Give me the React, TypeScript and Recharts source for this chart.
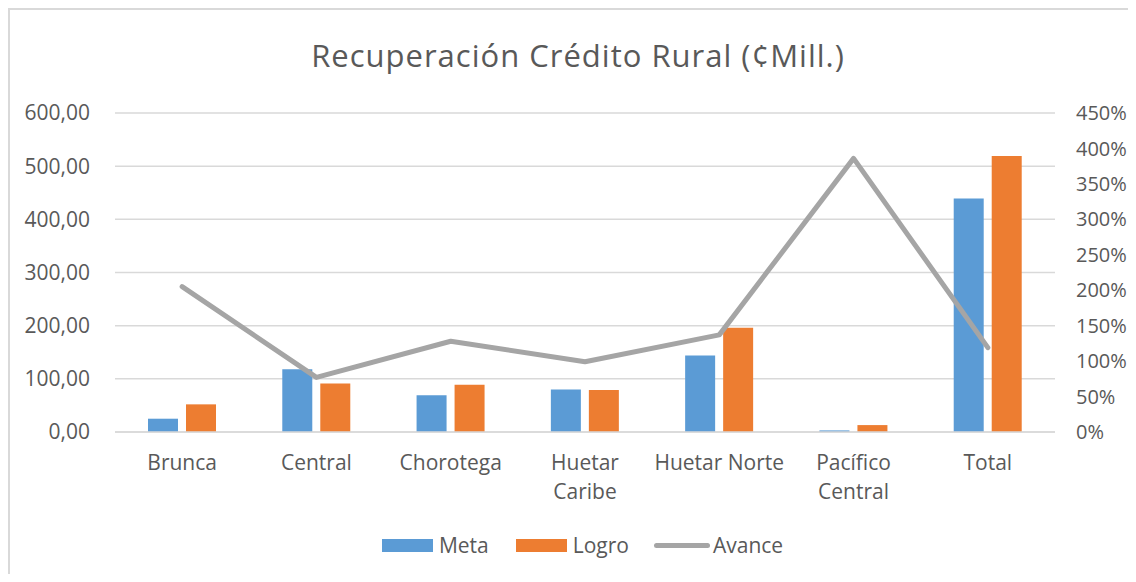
import React from 'react';
import { ComposedChart, Bar, Line, XAxis, YAxis, CartesianGrid, Legend } from 'recharts';

const categories = ['Brunca', 'Central', 'Chorotega', 'Huetar Caribe', 'Huetar Norte', 'Pacífico Central', 'Total'];
const tickLines = [['Brunca'], ['Central'], ['Chorotega'], ['Huetar', 'Caribe'], ['Huetar Norte'], ['Pacífico', 'Central'], ['Total']];
const meta = [25, 118, 69, 80, 144, 3, 439];
const logro = [52, 91, 89, 79, 196, 13, 519];
const avance = [205, 77, 128, 99, 137, 386, 119];
const leftTicks = [0, 100, 200, 300, 400, 500, 600];
const rightTicks = [0, 50, 100, 150, 200, 250, 300, 350, 400, 450];

const data = categories.map((name, i) => ({ name, meta: meta[i], logro: logro[i], avance: avance[i] }));

const COLORS = { meta: '#5B9BD5', logro: '#ED7D31', avance: '#A5A5A5', grid: '#D9D9D9', text: '#595959' };
const FONT = "'Open Sans', sans-serif";

const XTick = (props: any) => {
    const { x, y, index } = props;
    const lines = tickLines[index] || [props.payload.value];
    return (
        <text x={x} y={y + 38} textAnchor="middle" fill={COLORS.text} fontSize={21} fontFamily={FONT}>
            {lines.map((l: string, i: number) => (
                <tspan key={i} x={x} dy={i === 0 ? 0 : 29}>{l}</tspan>
            ))}
        </text>
    );
};

const LegendContent = () => (
    <div style={{ display: 'flex', justifyContent: 'center', alignItems: 'center', height: 26, paddingLeft: 21, fontFamily: FONT, fontSize: 21, color: COLORS.text }}>
        <span style={{ display: 'inline-block', width: 51, height: 13, background: COLORS.meta, marginRight: 6 }} />
        <span style={{ marginRight: 27 }}>Meta</span>
        <span style={{ display: 'inline-block', width: 51, height: 13, background: COLORS.logro, marginRight: 6 }} />
        <span style={{ marginRight: 25 }}>Logro</span>
        <span style={{ display: 'inline-block', width: 56, height: 5, borderRadius: 3, background: COLORS.avance, marginRight: 3 }} />
        <span>Avance</span>
    </div>
);

export default function App() {
    return (
        <div style={{ position: 'relative', width: 1128, height: 566 }}>
            <div style={{ position: 'absolute', left: 0, top: 0, right: 0, bottom: 0, borderTop: '2px solid #D9D9D9', borderLeft: '2px solid #D9D9D9', pointerEvents: 'none' }} />
            <div style={{ position: 'absolute', left: 570, top: 26, transform: 'translateX(-50%)', whiteSpace: 'nowrap', fontFamily: FONT, fontSize: 31, letterSpacing: 1, color: COLORS.text }}>
                Recuperación Crédito Rural (¢Mill.)
            </div>
            <ComposedChart
                width={1128}
                height={566}
                data={data}
                margin={{ top: 105, right: 0, left: 0, bottom: 16 }}
                barSize={30}
                barGap={8}
                style={{ overflow: 'visible' }}
            >
                <CartesianGrid stroke={COLORS.grid} strokeWidth={1.5} vertical={false} yAxisId="left" />
                <XAxis
                    dataKey="name"
                    height={100}
                    tick={<XTick />}
                    tickLine={false}
                    tickSize={0}
                    tickMargin={0}
                    axisLine={{ stroke: COLORS.grid, strokeWidth: 1.5 }}
                    interval={0}
                />
                <YAxis
                    yAxisId="left"
                    width={107}
                    domain={[0, 600]}
                    ticks={leftTicks}
                    tickFormatter={(v: number) => v.toFixed(2).replace('.', ',')}
                    tick={{ fill: COLORS.text, fontSize: 21, fontFamily: FONT }}
                    tickLine={false}
                    axisLine={false}
                    tickMargin={19}
                />
                <YAxis
                    yAxisId="right"
                    orientation="right"
                    width={81}
                    domain={[0, 450]}
                    ticks={rightTicks}
                    tickFormatter={(v: number) => `${v}%`}
                    tick={{ fill: COLORS.text, fontSize: 20, fontFamily: FONT }}
                    tickLine={false}
                    axisLine={false}
                    tickMargin={15}
                />
                <Legend verticalAlign="bottom" height={26} content={<LegendContent />} />
                <Bar yAxisId="left" dataKey="meta" name="Meta" fill={COLORS.meta} isAnimationActive={false} />
                <Bar yAxisId="left" dataKey="logro" name="Logro" fill={COLORS.logro} isAnimationActive={false} />
                <Line
                    yAxisId="right"
                    dataKey="avance"
                    name="Avance"
                    type="linear"
                    stroke={COLORS.avance}
                    strokeWidth={5}
                    strokeLinecap="round"
                    strokeLinejoin="round"
                    dot={false}
                    activeDot={false}
                    isAnimationActive={false}
                />
            </ComposedChart>
        </div>
    );
}
